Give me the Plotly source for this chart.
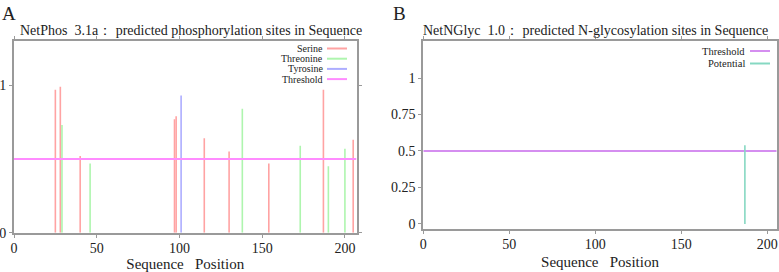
import plotly.graph_objects as go

# ---------------- Data ----------------
# Panel A: NetPhos 3.1a
serine_pos = [25, 28, 40, 97, 98, 115, 130, 154, 187, 205]
serine_val = [0.97, 0.99, 0.52, 0.77, 0.79, 0.64, 0.55, 0.47, 0.97, 0.63]
threonine_pos = [29, 46, 138, 173, 190, 200]
threonine_val = [0.73, 0.47, 0.84, 0.59, 0.45, 0.57]
tyrosine_pos = [101]
tyrosine_val = [0.93]
threshold_a = 0.5
seq_len_a = 207

# Panel B: NetNGlyc 1.0
potential_pos = [187]
potential_val = [0.54]
threshold_b = 0.5
seq_len_b = 205.5

legend_a = ["Serine", "Threonine", "Tyrosine", "Threshold"]
legend_b = ["Threshold", "Potential"]

# ---------------- Styles ----------------
C_SER = "#ffa3a3"
C_THR = "#aef5ae"
C_TYR = "#adadff"
C_THA = "#ff8cff"
C_THB = "#d58ef0"
C_POT = "#86d8c2"
FONT = "Liberation Serif, Times New Roman, serif"
AX = "#9a9a9a"
TXT = "#222222"


def stems(xs, ys):
    X, Y = [], []
    for x, y in zip(xs, ys):
        X += [x, x, None]
        Y += [0, y, None]
    return X, Y


fig = go.Figure()

for pos, val, col, name in [(serine_pos, serine_val, C_SER, "Serine"),
                            (threonine_pos, threonine_val, C_THR, "Threonine"),
                            (tyrosine_pos, tyrosine_val, C_TYR, "Tyrosine")]:
    X, Y = stems(pos, val)
    fig.add_trace(go.Scatter(x=X, y=Y, mode="lines", line=dict(color=col, width=1.6),
                             name=name, xaxis="x", yaxis="y", showlegend=False,
                             hoverinfo="skip"))
fig.add_trace(go.Scatter(x=[0, seq_len_a], y=[threshold_a, threshold_a], mode="lines",
                         line=dict(color=C_THA, width=2), name="Threshold",
                         xaxis="x", yaxis="y", showlegend=False))

fig.add_trace(go.Scatter(x=[0, seq_len_b], y=[threshold_b, threshold_b], mode="lines",
                         line=dict(color=C_THB, width=2), name="Threshold",
                         xaxis="x2", yaxis="y2", showlegend=False))
X, Y = stems(potential_pos, potential_val)
fig.add_trace(go.Scatter(x=X, y=Y, mode="lines", line=dict(color=C_POT, width=1.6),
                         name="Potential", xaxis="x2", yaxis="y2", showlegend=False))

axis_common = dict(showline=True, linecolor=AX, linewidth=2, mirror="ticks",
                   ticks="outside", ticklen=3, tickcolor=AX, showgrid=False,
                   zeroline=False, automargin=False, ticklabeloverflow="allow",
                   tickfont=dict(family=FONT, size=14, color=TXT))
title_font = dict(family=FONT, size=15, color=TXT)

fig.update_layout(
    template="none",
    font=dict(family=FONT, color=TXT),
    width=779, height=272, margin=dict(l=0, r=0, t=0, b=0),
    paper_bgcolor="white", plot_bgcolor="white",
    xaxis=dict(domain=[14 / 779, 356.5 / 779], range=[0, seq_len_a],
               tickvals=[0, 50, 100, 150, 200], anchor="y", ticklabelstandoff=-2,
               title=dict(text="Sequence   Position", font=title_font, standoff=5),
               **axis_common),
    yaxis=dict(domain=[39.3 / 272, 231 / 272], range=[0, 1.3], tickvals=[0, 1],
               anchor="x", **axis_common),
    xaxis2=dict(domain=[423.3 / 779, 776.7 / 779], range=[0, seq_len_b],
                tickvals=[0, 50, 100, 150, 200], anchor="y2", ticklabelstandoff=-2,
                title=dict(text="Sequence   Position", font=title_font, standoff=5),
                **axis_common),
    yaxis2=dict(domain=[42.7 / 272, 231 / 272], range=[-0.037, 1.254],
                tickvals=[0, 0.25, 0.5, 0.75, 1], ticktext=["0", "0.25", "0.5", "0.75", "1"],
                anchor="x2", **axis_common),
    showlegend=False,
)

anns = [
    dict(text="A", x=0, y=271, xanchor="left", yanchor="top", font=dict(size=19)),
    dict(text="B", x=391, y=271, xanchor="left", yanchor="top", font=dict(size=19)),
    dict(text="NetPhos  3.1a\uff1a predicted phosphorylation sites in Sequence", x=191, y=242,
         xanchor="center", yanchor="middle", font=dict(size=14)),
    dict(text="NetNGlyc  1.0\uff1a predicted N-glycosylation sites in Sequence", x=595, y=242,
         xanchor="center", yanchor="middle", font=dict(size=14)),
]
for a in anns:
    a.update(xref="paper", yref="paper", showarrow=False)
    a["x"] = a["x"] / 779
    a["y"] = a["y"] / 272
    a["font"].update(family=FONT, color=TXT)
    fig.add_annotation(**a)

# In-plot legends (text right-aligned, line sample on the right)
shapes = []
for i, (name, col) in enumerate(zip(legend_a, [C_SER, C_THR, C_TYR, C_THA])):
    ypix = 48.5 + i * 10.2
    fig.add_annotation(text=name, x=324 / 779, y=(272 - ypix) / 272, xref="paper", yref="paper",
                       xanchor="right", yanchor="middle", showarrow=False, borderpad=0,
                       font=dict(family=FONT, size=10, color=TXT))
    shapes.append(dict(type="line", xref="paper", yref="paper", x0=327 / 779, x1=347 / 779,
                       y0=(272 - ypix) / 272, y1=(272 - ypix) / 272,
                       line=dict(color=col, width=2)))
for i, (name, col) in enumerate(zip(legend_b, [C_THB, C_POT])):
    ypix = 51 + i * 12.5
    fig.add_annotation(text=name, x=746 / 779, y=(272 - ypix) / 272, xref="paper", yref="paper",
                       xanchor="right", yanchor="middle", showarrow=False, borderpad=0,
                       font=dict(family=FONT, size=10.5, color=TXT))
    shapes.append(dict(type="line", xref="paper", yref="paper", x0=750 / 779, x1=770 / 779,
                       y0=(272 - ypix) / 272, y1=(272 - ypix) / 272,
                       line=dict(color=col, width=2)))
fig.update_layout(shapes=shapes)

fig.write_html("out.html")
